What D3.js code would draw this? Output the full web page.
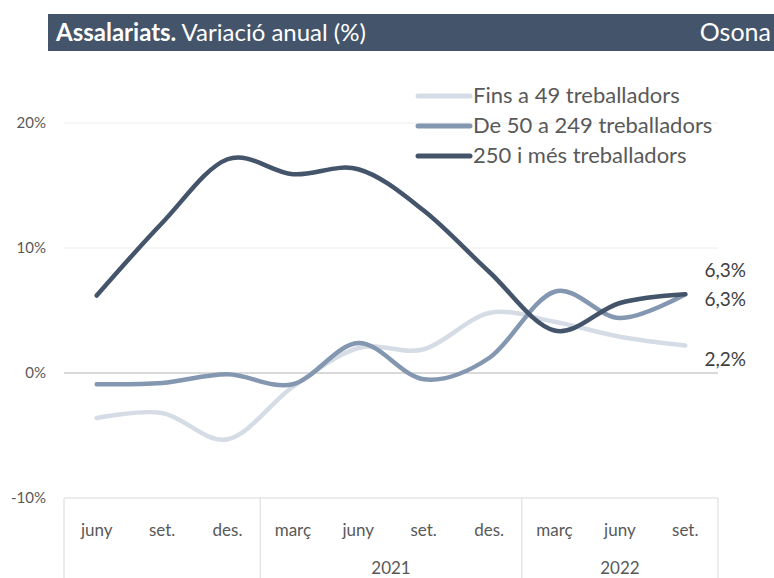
<!DOCTYPE html>
<html>
<head>
<meta charset="utf-8">
<script src="https://cdn.jsdelivr.net/npm/d3@7"></script>
<style>
  body { margin: 0; background: #fff; }
  text { font-family: Lato, "Noto Sans", sans-serif; }
</style>
</head>
<body>
<div id="chart"></div>
<script>
// quarters shown on the axis, grouped by year
var months = ["juny", "set.", "des.", "març", "juny", "set.", "des.", "març", "juny", "set."];
var years = [{ label: "", from: 0, to: 3 }, { label: "2021", from: 3, to: 7 }, { label: "2022", from: 7, to: 10 }];

var seriesNames = ["Fins a 49 treballadors", "De 50 a 249 treballadors", "250 i més treballadors"];
var fins49 = [-3.6, -3.2, -5.3, -1.1, 2.0, 1.9, 4.8, 4.1, 2.9, 2.2];
var de50a249 = [-0.9, -0.8, -0.1, -0.9, 2.4, -0.5, 1.2, 6.5, 4.4, 6.3];
var mes250 = [6.2, 12.0, 17.1, 15.9, 16.3, 13.0, 8.1, 3.4, 5.6, 6.3];
var yTicks = [-10, 0, 10, 20];

var colors = ["#d6dce5", "#8497b0", "#44546a"];
var allSeries = [fins49, de50a249, mes250];

var width = 774, height = 578;
var svg = d3.select("#chart").append("svg")
    .attr("width", width)
    .attr("height", height);

// title bar
svg.append("rect")
    .attr("x", 48).attr("y", 14)
    .attr("width", width - 48).attr("height", 37)
    .attr("fill", "#44546a");

var title = svg.append("text")
    .attr("x", 56).attr("y", 41)
    .attr("fill", "#fff")
    .style("font-size", "24px");
title.append("tspan").style("font-weight", "bold").text("Assalariats.");
title.append("tspan").text(" Variació anual (%)");

svg.append("text")
    .attr("x", 771).attr("y", 41)
    .attr("text-anchor", "end")
    .attr("fill", "#fff")
    .style("font-size", "25px")
    .text("Osona");

var left = 64, right = 718;
var x = d3.scaleBand()
    .domain(d3.range(months.length))
    .range([left, right]);

var y = d3.scaleLinear()
    .domain([-10, 20])
    .range([498, 123]);

// gridlines
svg.append("g").selectAll("line")
    .data(yTicks.filter(function(d) { return d > -10; }))
    .enter().append("line")
    .attr("x1", left).attr("x2", right)
    .attr("y1", function(d) { return y(d); })
    .attr("y2", function(d) { return y(d); })
    .attr("stroke", function(d) { return d == 0 ? "#d9d9d9" : "#ececec"; })
    .attr("stroke-width", function(d) { return d == 0 ? 2 : 1; });

// y tick labels
svg.append("g").selectAll("text")
    .data(yTicks)
    .enter().append("text")
    .attr("x", 46)
    .attr("y", function(d) { return y(d) + 5; })
    .attr("text-anchor", "end")
    .attr("fill", "#595959")
    .style("font-size", "15px")
    .text(function(d) { return d + "%"; });

// category axis
var axis = svg.append("g");
axis.append("line")
    .attr("x1", left).attr("x2", right)
    .attr("y1", y(-10)).attr("y2", y(-10))
    .attr("stroke", "#d9d9d9");

var bounds = [0, 3, 7, 10];
axis.selectAll(".sep")
    .data(bounds)
    .enter().append("line")
    .attr("class", "sep")
    .attr("x1", function(d) { return left + d * x.step(); })
    .attr("x2", function(d) { return left + d * x.step(); })
    .attr("y1", y(-10)).attr("y2", height)
    .attr("stroke", "#d9d9d9");

axis.selectAll(".month")
    .data(months)
    .enter().append("text")
    .attr("class", "month")
    .attr("x", function(d, i) { return x(i) + x.bandwidth() / 2; })
    .attr("y", 536)
    .attr("text-anchor", "middle")
    .attr("fill", "#595959")
    .style("font-size", "17px")
    .text(function(d) { return d; });

axis.selectAll(".year")
    .data(years)
    .enter().append("text")
    .attr("class", "year")
    .attr("x", function(d) { return left + (d.from + d.to) / 2 * x.step(); })
    .attr("y", 574)
    .attr("text-anchor", "middle")
    .attr("fill", "#595959")
    .style("font-size", "17px")
    .text(function(d) { return d.label; });

// lines
var line = d3.line()
    .x(function(d, i) { return x(i) + x.bandwidth() / 2; })
    .y(function(d) { return y(d); })
    .curve(d3.curveCardinal.tension(0));

svg.append("g").selectAll("path")
    .data(allSeries)
    .enter().append("path")
    .attr("d", line)
    .attr("fill", "none")
    .attr("stroke", function(d, i) { return colors[i]; })
    .attr("stroke-width", 4.5)
    .attr("stroke-linecap", "round");

// end labels
var endLabels = [
  { text: "2,2%", y: 366 },
  { text: "6,3%", y: 306 },
  { text: "6,3%", y: 277 }
];
svg.append("g").selectAll("text")
    .data(endLabels)
    .enter().append("text")
    .attr("x", 746)
    .attr("y", function(d) { return d.y; })
    .attr("text-anchor", "end")
    .attr("fill", "#404040")
    .style("font-size", "19px")
    .text(function(d) { return d.text; });

// legend
var legend = svg.append("g").selectAll("g")
    .data(seriesNames)
    .enter().append("g")
    .attr("transform", function(d, i) { return "translate(418," + (96 + i * 30) + ")"; });

legend.append("line")
    .attr("x1", 0).attr("x2", 52)
    .attr("stroke", function(d, i) { return colors[i]; })
    .attr("stroke-width", 5)
    .attr("stroke-linecap", "round");

legend.append("text")
    .attr("x", 55).attr("y", 7)
    .attr("fill", "#595959")
    .style("font-size", "22px")
    .text(function(d) { return d; });
</script>
</body>
</html>
